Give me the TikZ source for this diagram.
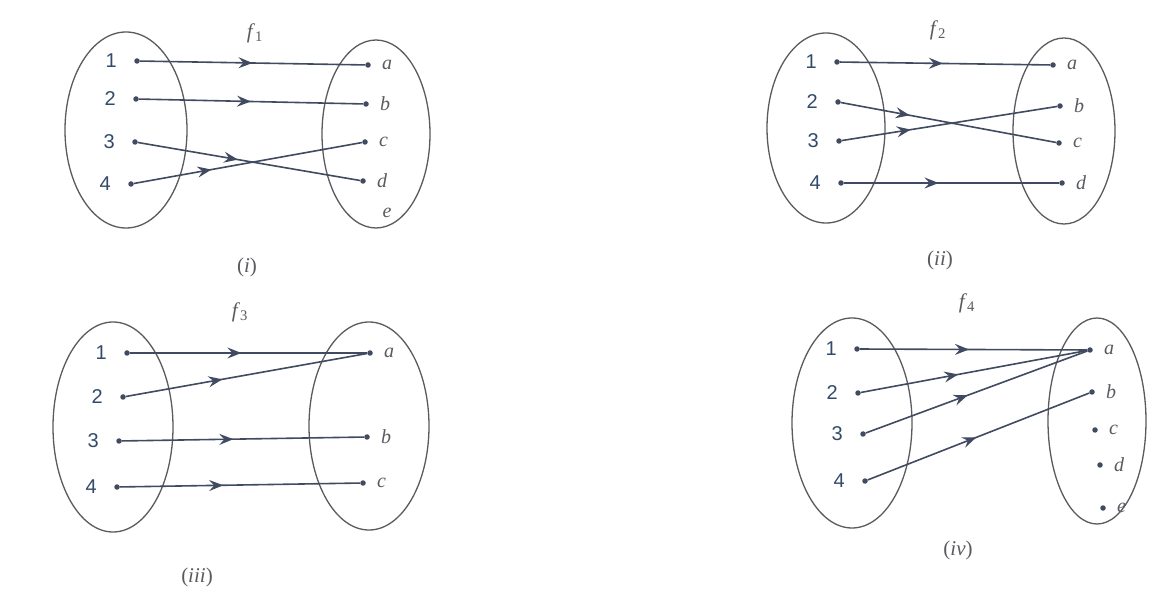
\documentclass[tikz,border=0pt]{standalone}
\usepackage{fontspec}
\setmainfont{Liberation Serif}
\setsansfont{Liberation Sans}
\usetikzlibrary{arrows.meta,decorations.markings}
\definecolor{inkline}{RGB}{64,74,96}
\definecolor{setgray}{RGB}{90,90,96}
\definecolor{numblue}{RGB}{52,74,106}
\definecolor{letgray}{RGB}{90,90,96}

\begin{document}
\begin{tikzpicture}[x=1pt,y=-1pt,
 pt/.style={circle,fill=inkline,inner sep=0pt,minimum size=5.5pt},
 numlbl/.style={font=\sffamily\fontsize{20}{20}\selectfont,text=numblue,inner sep=0pt},
 letlbl/.style={font=\itshape\fontsize{20}{20}\selectfont,text=letgray,inner sep=0pt},
 dom/.style={pt,label={[numlbl,label distance=17pt]left:#1}},
 cod/.style={pt,label={[letlbl,label distance=11pt]right:#1}},
 arrmap/.style={draw=inkline,line width=1.6pt,postaction={decorate},
  decoration={markings,mark=at position #1 with {\arrow[inkline]{Stealth[length=14pt,width=11pt,inset=5pt]}}}},
 arrmap/.default=0.47,
 setline/.style={draw=setgray,line width=1.3pt},
 title/.style={font=\fontsize{21}{21}\selectfont,text=letgray}]
\useasboundingbox[fill=white] (0,0) rectangle (1149,593);

% (i)
\draw[setline] (126,130) ellipse [x radius=61, y radius=98];
\draw[setline] (376,134) ellipse [x radius=54, y radius=94];
\node[dom=1] (i1) at (137,61) {}; \node[dom=2] (i2) at (136,99) {};
\node[dom=3] (i3) at (135,142) {}; \node[dom=4] (i4) at (131,184) {};
\node[cod=a] (ia) at (368,65) {}; \node[cod=b] (ib) at (366,104) {};
\node[cod=c] (ic) at (365,142) {}; \node[cod=d] (id) at (363,181) {};
\node[letlbl] (ie) at (387,213) {e};
\node[title] (f1) at (255,33) {\textit{f}\textsubscript{1}};
\node[title] (cap1) at (247,267) {(\textit{i})};
\draw[arrmap=0.5] (i1) -- (ia); \draw[arrmap=0.5] (i2) -- (ib);
\draw[arrmap=0.45] (i3) -- (id); \draw[arrmap=0.34] (i4) -- (ic);

% (ii)
\draw[setline] (826,128) ellipse [x radius=59, y radius=95];
\draw[setline] (1064,131) ellipse [x radius=51, y radius=93];
\node[dom=1] (ii1) at (837,62) {}; \node[dom=2] (ii2) at (838,102) {};
\node[dom=3] (ii3) at (839,141) {}; \node[dom=4] (ii4) at (841,183) {};
\node[cod=a] (iia) at (1053,65) {}; \node[cod=b] (iib) at (1060,106) {};
\node[cod=c] (iic) at (1059,143) {}; \node[cod=d] (iid) at (1062,183) {};
\node[title] (f2) at (938,30) {\textit{f}\textsubscript{2}};
\node[title] (cap2) at (940,260) {(\textit{ii})};
\draw[arrmap=0.49] (ii1) -- (iia); \draw[arrmap=0.32] (ii2) -- (iic);
\draw[arrmap=0.32] (ii3) -- (iib); \draw[arrmap=0.44] (ii4) -- (iid);

% (iii)
\draw[setline] (113,427) ellipse [x radius=60, y radius=105];
\draw[setline] (369,426) ellipse [x radius=60, y radius=104];
\node[dom=1] (iii1) at (127,353) {}; \node[dom=2] (iii2) at (123,397) {};
\node[dom=3] (iii3) at (119,441) {}; \node[dom=4] (iii4) at (117,487) {};
\node[cod=a] (iiia) at (370,353) {}; \node[cod=b] (iiib) at (367,437) {};
\node[cod=c] (iiic) at (363,483) {};
\node[title] (f3) at (240,312) {\textit{f}\textsubscript{3}};
\node[title] (cap3) at (197,577) {(\textit{iii})};
\draw[arrmap=0.47] (iii1) -- (iiia); \draw[arrmap=0.4] (iii2) -- (iiia);
\draw[arrmap=0.46] (iii3) -- (iiib); \draw[arrmap=0.43] (iii4) -- (iiic);

% (iv)
\draw[setline] (852,423) ellipse [x radius=60, y radius=105];
\draw[setline] (1097,421) ellipse [x radius=49, y radius=103];
\node[dom=1] (iv1) at (857,349) {}; \node[dom=2] (iv2) at (858,393) {};
\node[dom=3] (iv3) at (863,434) {}; \node[dom=4] (iv4) at (865,481) {};
\node[cod=a] (iva) at (1090,350) {}; \node[cod=b] (ivb) at (1092,392) {};
\node[cod=c] (ivc) at (1095,430) {}; \node[cod=d] (ivd) at (1100,465) {};
\node[cod=e] (ive) at (1103,508) {};
\node[title] (f4) at (967,303) {\textit{f}\textsubscript{4}};
\node[title] (cap4) at (958,550) {(\textit{iv})};
\draw[arrmap=0.48] (iv1) -- (iva); \draw[arrmap=0.43] (iv2) -- (iva);
\draw[arrmap=0.46] (iv3) -- (iva); \draw[arrmap=0.49] (iv4) -- (ivb);
\end{tikzpicture}
\end{document}
